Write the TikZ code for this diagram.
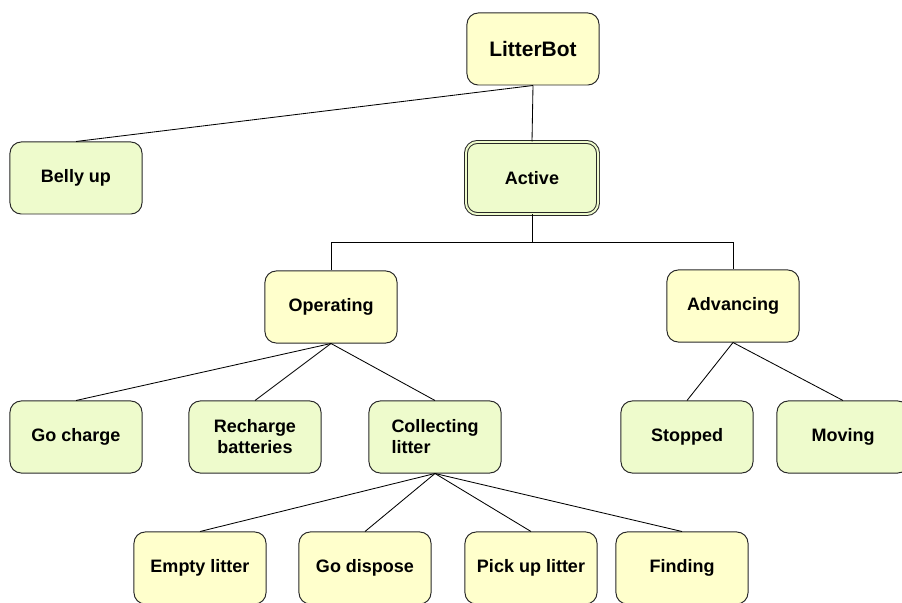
\documentclass[tikz,border=0pt]{standalone}
\usepackage{fontspec}
\setmainfont{Liberation Sans}
\usepackage{tikz}
\usetikzlibrary{arrows,positioning}
\definecolor{colY}{RGB}{255,255,204}
\definecolor{colG}{RGB}{238,251,204}
\definecolor{colB}{RGB}{40,40,40}
\tikzstyle{state}=[draw=colB, line width=0.7pt, rounded corners=8pt, minimum width=3.3cm, minimum height=1.8cm, align=center, font=\bfseries\fontsize{12.8}{15}\selectfont]
\tikzstyle{plain}=[state, fill=colY]
\tikzstyle{sub}=[state, fill=colG]
\tikzstyle{link}=[draw, line width=0.6pt]

\begin{document}
\begin{tikzpicture}[x=0.025cm,y=-0.025cm]
    \useasboundingbox (0,0) rectangle (902,603);
    % top levels
    \node [plain, font=\bfseries\fontsize{14.9}{17}\selectfont] (bot) at (533,49) {LitterBot};
    \node [sub] (belly) at (76,178) {Belly up};
    \node [sub, double=colG, double distance=1.4pt] (active) at (532,178) {Active};
    \node [plain] (oper) at (331,307) {Operating};
    \node [plain] (adv) at (733,306) {Advancing};
    % operating / advancing children
    \node [sub] (gocharge) at (76,437) {Go charge};
    \node [sub] (recharge) at (255,437) {Recharge\\batteries};
    \node [sub, align=left] (collect) at (435,437) {Collecting\\litter};
    \node [sub] (stopped) at (687,437) {Stopped};
    \node [sub] (moving) at (843,437) {Moving};
    % collecting children
    \node [plain] (empty) at (200,568) {Empty litter};
    \node [plain] (dispose) at (365,568) {Go dispose};
    \node [plain] (pickup) at (531,568) {Pick up litter};
    \node [plain] (finding) at (682,568) {Finding};
    \coordinate (fork) at (532,242);
    \path[link]
    (bot.south) edge (belly.north)
    (bot.south) edge (active.north)
    (active.south) edge (fork)
    (oper.south) edge (gocharge.north)
    (oper.south) edge (recharge.north)
    (oper.south) edge (collect.north)
    (adv.south) edge (stopped.north)
    (adv.south) edge (moving.north)
    (collect.south) edge (empty.north)
    (collect.south) edge (dispose.north)
    (collect.south) edge (pickup.north)
    (collect.south) edge (finding.north);
    \draw[link] (fork) -| (oper.north);
    \draw[link] (fork) -| (adv.north);
\end{tikzpicture}
\end{document}
